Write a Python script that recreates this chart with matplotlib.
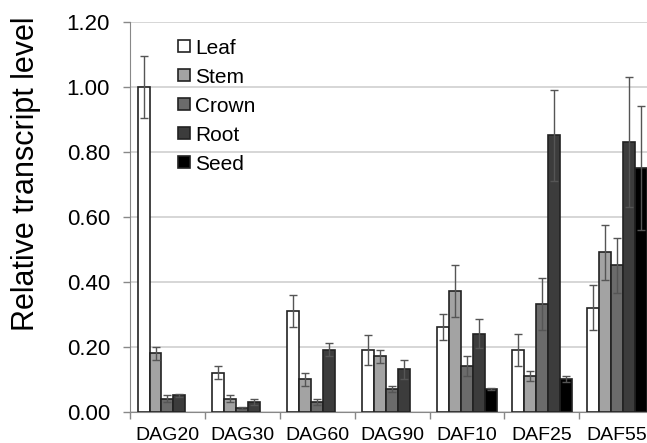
import numpy as np
import matplotlib.pyplot as plt

plt.rcParams['font.family'] = ['Liberation Sans', 'DejaVu Sans']

groups = ['DAG20', 'DAG30', 'DAG60', 'DAG90', 'DAF10', 'DAF25', 'DAF55']
tissues = ['Leaf', 'Stem', 'Crown', 'Root', 'Seed']

leaf = [1.00, 0.12, 0.31, 0.19, 0.26, 0.19, 0.32]
stem = [0.18, 0.04, 0.10, 0.17, 0.37, 0.11, 0.49]
crown = [0.04, 0.01, 0.03, 0.07, 0.14, 0.33, 0.45]
root = [0.05, 0.03, 0.19, 0.13, 0.24, 0.85, 0.83]
seed = [np.nan, np.nan, np.nan, np.nan, 0.07, 0.10, 0.75]

leaf_err = [0.095, 0.02, 0.05, 0.045, 0.04, 0.05, 0.07]
stem_err = [0.02, 0.01, 0.02, 0.02, 0.08, 0.015, 0.085]
crown_err = [0.01, 0.003, 0.01, 0.01, 0.03, 0.08, 0.085]
root_err = [0.005, 0.008, 0.02, 0.03, 0.045, 0.14, 0.20]
seed_err = [np.nan, np.nan, np.nan, np.nan, 0.004, 0.01, 0.19]

values = [leaf, stem, crown, root, seed]
errors = [leaf_err, stem_err, crown_err, root_err, seed_err]
colors = ['#ffffff', '#a3a3a3', '#6b6b6b', '#3c3c3c', '#000000']

fig = plt.figure(figsize=(6.47, 4.43), dpi=100)
ax = fig.add_axes([0.201, 0.0707, 0.81, 0.8803])

width = 0.16
x = np.arange(len(groups))
for k, name in enumerate(tissues):
    pos = x + 0.1 + width * k + width / 2
    ax.bar(pos, values[k], width, color=colors[k], edgecolor='#222222',
           linewidth=1.2, label=name, zorder=3)
    ax.errorbar(pos, values[k], yerr=errors[k], fmt='none', ecolor='#555555',
                elinewidth=1.0, capsize=3, capthick=1.0, zorder=4)

ax.set_xlim(0, len(groups))
ax.set_ylim(0, 1.2)
ax.set_yticks(np.arange(0, 1.21, 0.2))
ax.set_yticklabels([f'{v:.2f}' for v in np.arange(0, 1.21, 0.2)], fontsize=16)
ax.set_xticks(x + 0.5)
ax.set_xticklabels(groups, fontsize=14)
ax.set_xticks(np.arange(0, len(groups) + 1), minor=True)
ax.tick_params(axis='x', which='major', length=0, pad=11)
ax.tick_params(axis='x', which='minor', length=5, color='#888888', width=1)
ax.tick_params(axis='y', length=5, color='#888888', width=1, pad=9.5)
ax.grid(axis='y', color='#d0d0d0', linewidth=1.2, zorder=0)
for s in ['top', 'right']:
    ax.spines[s].set_visible(False)
ax.spines['left'].set_color('#888888')
ax.spines['bottom'].set_color('#888888')
ax.set_ylabel('Relative transcript level', fontsize=22)
ax.yaxis.set_label_coords(-0.170, 0.61)

ax.legend(loc='upper left', bbox_to_anchor=(0.075, 0.978), frameon=False,
          fontsize=15, handlelength=0.6, handleheight=0.5, handletextpad=0.25,
          labelspacing=0.48, borderaxespad=0)

fig.savefig('out.png', dpi=100)
